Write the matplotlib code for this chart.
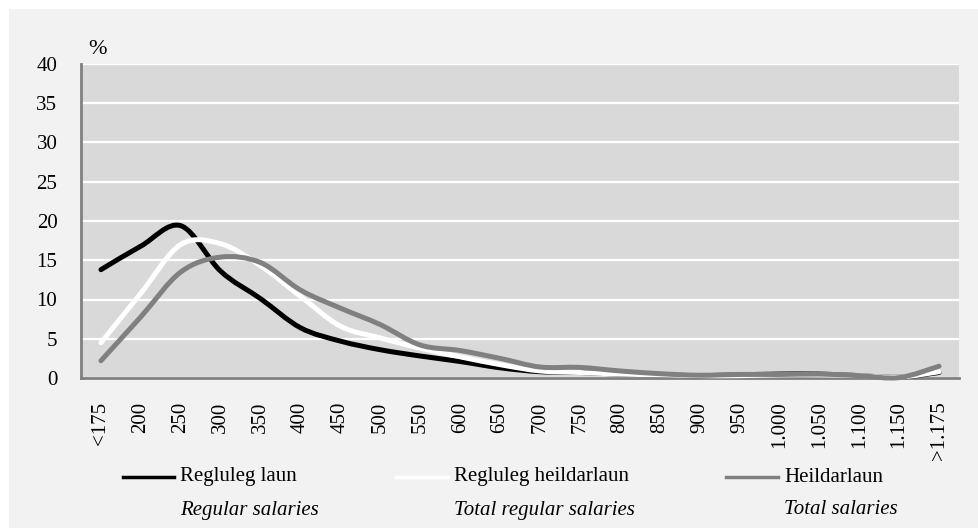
import matplotlib
matplotlib.use("Agg")
import matplotlib.pyplot as plt
from matplotlib.path import Path
from matplotlib.patches import PathPatch, Rectangle
from matplotlib.lines import Line2D

plt.rcParams['font.family'] = ['Liberation Serif', 'DejaVu Serif']

categories = ["<175", "200", "250", "300", "350", "400", "450", "500", "550", "600",
              "650", "700", "750", "800", "850", "900", "950", "1.000", "1.050",
              "1.100", "1.150", ">1.175"]

regluleg_laun = [13.8, 16.8, 19.4, 13.6, 10.1, 6.4, 4.7, 3.6, 2.8, 2.1,
                 1.3, 0.8, 0.7, 0.5, 0.4, 0.3, 0.4, 0.5, 0.5, 0.3, 0.1, 0.7]
regluleg_heildarlaun = [4.5, 10.8, 17.0, 17.1, 14.3, 10.4, 6.6, 5.1, 3.8, 2.7,
                        1.7, 0.9, 0.7, 0.5, 0.4, 0.3, 0.3, 0.4, 0.4, 0.3, 0.1, 0.8]
heildarlaun = [2.2, 7.8, 13.5, 15.4, 14.7, 11.2, 8.9, 6.8, 4.2, 3.5,
               2.5, 1.4, 1.35, 0.9, 0.55, 0.35, 0.45, 0.45, 0.5, 0.3, 0.05, 1.5]

series = [
    (regluleg_laun, "#000000", "Regluleg laun", "Regular salaries"),
    (regluleg_heildarlaun, "#ffffff", "Regluleg heildarlaun", "Total regular salaries"),
    (heildarlaun, "#808080", "Heildarlaun", "Total salaries"),
]


def smooth_path(ys):
    # Excel-style smoothed line: cubic bezier through every point
    xs = list(range(len(ys)))
    n = len(ys)
    verts = [(xs[0], ys[0])]
    codes = [Path.MOVETO]
    for i in range(n - 1):
        x0, y0 = xs[max(i - 1, 0)], ys[max(i - 1, 0)]
        x1, y1 = xs[i], ys[i]
        x2, y2 = xs[i + 1], ys[i + 1]
        x3, y3 = xs[min(i + 2, n - 1)], ys[min(i + 2, n - 1)]
        c1 = (x1 + (x2 - x0) / 6, y1 + (y2 - y0) / 6)
        c2 = (x2 - (x3 - x1) / 6, y2 - (y3 - y1) / 6)
        verts += [c1, c2, (x2, y2)]
        codes += [Path.CURVE4] * 3
    return Path(verts, codes)


W, H = 979, 528
fig = plt.figure(figsize=(W / 100, H / 100), dpi=100, facecolor="white")
fig.patches.append(Rectangle((9 / W, 0), 1, 1 - 9 / H, transform=fig.transFigure,
                             facecolor="#f2f2f2", edgecolor="none", zorder=-10))

ax = fig.add_axes([81 / W, (H - 378) / H, (959 - 81) / W, (378 - 64) / H])
ax.set_facecolor("#d9d9d9")

for ys, col, _, _ in series:
    ax.add_patch(PathPatch(smooth_path(ys), facecolor="none", edgecolor=col,
                           lw=3.6, capstyle="round", joinstyle="round",
                           clip_on=False, zorder=3))

ax.set_xlim(-0.5, len(categories) - 0.5)
ax.set_ylim(0, 40)
ax.set_yticks(range(0, 41, 5))
ax.set_xticks(range(len(categories)))
ax.set_xticklabels(categories, rotation=90, fontsize=15)
ax.tick_params(axis="y", labelsize=15, length=0, pad=17)
ax.tick_params(axis="x", length=0, pad=17)
ax.grid(axis="y", color="white", lw=1.6)
ax.set_axisbelow(True)
for s in ["top", "right"]:
    ax.spines[s].set_visible(False)
for s in ["left", "bottom"]:
    ax.spines[s].set_color("#808080")
    ax.spines[s].set_linewidth(2)
    ax.spines[s].set_zorder(2.5)

fig.text(88 / W, 1 - 49 / H, "%", fontsize=16, va="center", ha="left")

# legend: line sample + Icelandic name, English name in italics below
leg_x = [(123, 174, 180), (396, 448, 454), (726, 778, 784)]
for (ys, col, name, eng), (lx0, lx1, tx) in zip(series, leg_x):
    fig.add_artist(Line2D([lx0 / W, lx1 / W], [1 - 477 / H, 1 - 477 / H],
                          color=col, lw=2.5, transform=fig.transFigure))
    fig.text(tx / W, 1 - 477 / H, name, fontsize=15, va="center", ha="left")
    fig.text(tx / W, 1 - 510 / H, eng, fontsize=15, style="italic",
             va="center", ha="left")

fig.savefig("out.png", dpi=100, facecolor=fig.get_facecolor())
